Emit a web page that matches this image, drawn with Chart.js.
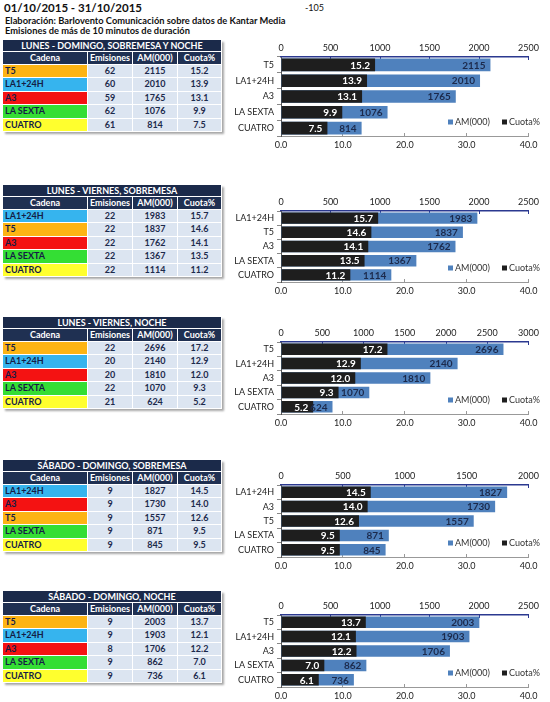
<!DOCTYPE html>
<html>
<head>
<meta charset="utf-8">
<script src="https://cdn.jsdelivr.net/npm/chart.js@4.4.0/dist/chart.umd.min.js"></script>
<style>
  body { margin: 0; width: 550px; height: 702px; position: relative; background: #fff; overflow: hidden;
         font-family: Lato, "Open Sans", sans-serif; }
  .txt { position: absolute; white-space: nowrap; color: #111; }
  .tabla { position: absolute; left: 3px; width: 219px; box-shadow: 2px 2px 2px rgba(0,0,0,0.35); }
  .fila { display: flex; }
  .celda { box-sizing: border-box; border-right: 1px solid #fff; border-bottom: 1px solid #fff;
           font-size: 9px; font-weight: bold; text-align: center; color: #1c2a4c; overflow: hidden; }
  .titulo { background: #1b2a4a; color: #fff; width: 219px; }
  .cab { background: #1f3052; color: #fff; }
  .dato { background: #dce5f1; }
  .cadena { text-align: left; padding-left: 2px; color: #141c46; }
  .grafico { position: absolute; left: 232px; width: 314px; }
</style>
</head>
<body>
<div class="txt" style="left:4px;top:1px;font-size:11.5px;font-weight:bold;">01/10/2015 - 31/10/2015</div>
<div class="txt" style="left:305px;top:2px;font-size:9px;">-105</div>
<div class="txt" style="left:5px;top:15px;font-size:9.3px;font-weight:bold;">Elaboración: Barlovento Comunicación sobre datos de Kantar Media</div>
<div class="txt" style="left:5px;top:25px;font-size:9.3px;font-weight:bold;">Emisiones de más de 10 minutos de duración</div>
<div id="panel"></div>
<script>
// Datos de cada franja
const titulos = ['LUNES - DOMINGO, SOBREMESA Y NOCHE', 'LUNES - VIERNES, SOBREMESA', 'LUNES - VIERNES, NOCHE',
                 'SÁBADO - DOMINGO, SOBREMESA', 'SÁBADO - DOMINGO, NOCHE'];

const cadenas1 = ['T5', 'LA1+24H', 'A3', 'LA SEXTA', 'CUATRO'];
const emisiones1 = [62, 60, 59, 62, 61];
const am1 = [2115, 2010, 1765, 1076, 814];
const cuota1 = [15.2, 13.9, 13.1, 9.9, 7.5];

const cadenas2 = ['LA1+24H', 'T5', 'A3', 'LA SEXTA', 'CUATRO'];
const emisiones2 = [22, 22, 22, 22, 22];
const am2 = [1983, 1837, 1762, 1367, 1114];
const cuota2 = [15.7, 14.6, 14.1, 13.5, 11.2];

const cadenas3 = ['T5', 'LA1+24H', 'A3', 'LA SEXTA', 'CUATRO'];
const emisiones3 = [22, 20, 20, 22, 21];
const am3 = [2696, 2140, 1810, 1070, 624];
const cuota3 = [17.2, 12.9, 12.0, 9.3, 5.2];

const cadenas4 = ['LA1+24H', 'A3', 'T5', 'LA SEXTA', 'CUATRO'];
const emisiones4 = [9, 9, 9, 9, 9];
const am4 = [1827, 1730, 1557, 871, 845];
const cuota4 = [14.5, 14.0, 12.6, 9.5, 9.5];

const cadenas5 = ['T5', 'LA1+24H', 'A3', 'LA SEXTA', 'CUATRO'];
const emisiones5 = [9, 9, 8, 9, 9];
const am5 = [2003, 1903, 1706, 862, 736];
const cuota5 = [13.7, 12.1, 12.2, 7.0, 6.1];

const maxAM = [2500, 2500, 3000, 2000, 2500];

const cadenas = [cadenas1, cadenas2, cadenas3, cadenas4, cadenas5];
const emisiones = [emisiones1, emisiones2, emisiones3, emisiones4, emisiones5];
const am = [am1, am2, am3, am4, am5];
const cuota = [cuota1, cuota2, cuota3, cuota4, cuota5];

// Estilos y posiciones
const colorCadena = { 'T5': '#fdb414', 'LA1+24H': '#36b4ee', 'A3': '#f41212', 'LA SEXTA': '#34de34', 'CUATRO': '#ffff2e' };
const topTabla = [40, 185, 317, 460, 591];
const topEje = [57, 211, 342, 485, 615];
const altoPlot = [79, 71, 72, 72, 72];
const anchos = [85, 45, 45, 44];
const fuente = 'Lato, "Open Sans", sans-serif';

// Etiquetas dentro de las barras
const etiquetas = {
    id: 'etiquetas',
    afterDatasetsDraw(chart) {
        const ctx = chart.ctx;
        ctx.save();
        ctx.font = 'bold 10px ' + fuente;
        ctx.textAlign = 'right';
        ctx.textBaseline = 'middle';
        [1, 0].forEach(di => {
            const ds = chart.data.datasets[di];
            chart.getDatasetMeta(di).data.forEach((bar, i) => {
                ctx.fillStyle = di === 0 ? '#ffffff' : '#1c2a4c';
                const v = di === 0 ? ds.data[i].toFixed(1) : String(ds.data[i]);
                ctx.fillText(v, bar.x - 5, bar.y + 0.5);
            });
        });
        ctx.restore();
    }
};

// Leyenda dentro del área
const leyenda = {
    id: 'leyenda',
    afterDraw(chart) {
        const ctx = chart.ctx;
        const ca = chart.chartArea;
        const y = ca.bottom - 14;
        const items = [chart.data.datasets[1], chart.data.datasets[0]];
        const xs = [ca.left + 167, ca.left + 221];
        ctx.save();
        ctx.font = '9px ' + fuente;
        ctx.textBaseline = 'middle';
        items.forEach((ds, k) => {
            ctx.fillStyle = ds.backgroundColor;
            ctx.fillRect(xs[k], y - 2.5, 5, 5);
            ctx.fillStyle = '#333';
            ctx.fillText(ds.label, xs[k] + 7, y + 0.5);
        });
        ctx.restore();
    }
};

const panel = document.getElementById('panel');

titulos.forEach((titulo, p) => {
    // Tabla
    const tabla = document.createElement('div');
    tabla.className = 'tabla';
    tabla.style.top = topTabla[p] + 'px';
    let html = '<div class="fila"><div class="celda titulo" style="height:12px;line-height:11px">' + titulo + '</div></div>';
    html += '<div class="fila">' + ['Cadena', 'Emisiones', 'AM(000)', 'Cuota%'].map((c, k) =>
        '<div class="celda cab" style="width:' + anchos[k] + 'px;height:13px;line-height:12px">' + c + '</div>').join('') + '</div>';
    cadenas[p].forEach((c, i) => {
        const vals = [emisiones[p][i], am[p][i], cuota[p][i].toFixed(1)];
        html += '<div class="fila">';
        html += '<div class="celda cadena" style="width:' + anchos[0] + 'px;height:13.4px;line-height:12.4px;background:' + colorCadena[c] + '">' + c + '</div>';
        vals.forEach((v, k) => {
            html += '<div class="celda dato" style="width:' + anchos[k + 1] + 'px;height:13.4px;line-height:12.4px">' + v + '</div>';
        });
        html += '</div>';
    });
    tabla.innerHTML = html;
    panel.appendChild(tabla);

    // Gráfico
    const caja = document.createElement('div');
    caja.className = 'grafico';
    caja.style.top = (topEje[p] - 22) + 'px';
    caja.style.height = (22 + altoPlot[p] + 20) + 'px';
    const canvas = document.createElement('canvas');
    caja.appendChild(canvas);
    panel.appendChild(caja);

    new Chart(canvas.getContext('2d'), {
        type: 'bar',
        data: {
            labels: cadenas[p],
            datasets: [
                { label: 'Cuota%', data: cuota[p], xAxisID: 'xC', backgroundColor: '#1e1e1e',
                  grouped: false, barPercentage: 0.8, categoryPercentage: 1 },
                { label: 'AM(000)', data: am[p], xAxisID: 'xAM', backgroundColor: '#4f81bd',
                  grouped: false, barPercentage: 0.8, categoryPercentage: 1 }
            ]
        },
        options: {
            indexAxis: 'y',
            responsive: true,
            maintainAspectRatio: false,
            animation: false,
            layout: { padding: { top: 0, right: 13, bottom: 0, left: 0 } },
            plugins: { legend: { display: false }, tooltip: { enabled: false } },
            scales: {
                xAM: {
                    type: 'linear', position: 'top', min: 0, max: maxAM[p],
                    ticks: { stepSize: 500, padding: 7, color: '#222', font: { family: fuente, size: 9 },
                             callback: v => String(v) },
                    grid: { drawOnChartArea: false, tickLength: -3, color: '#2b3990' },
                    border: { color: '#2b3990', width: 1.5 },
                    afterFit(s) { s.height = 22; }
                },
                xC: {
                    type: 'linear', position: 'bottom', min: 0, max: 40,
                    ticks: { stepSize: 10, padding: 7, color: '#222', font: { family: fuente, size: 9 },
                             callback: v => v.toFixed(1) },
                    grid: { drawOnChartArea: false, tickLength: -3, color: '#999' },
                    border: { color: '#999' },
                    afterFit(s) { s.height = 20; }
                },
                y: {
                    type: 'category',
                    ticks: { padding: 3, color: '#222', font: { family: fuente, size: 9 } },
                    grid: { drawOnChartArea: false, tickLength: 4, color: '#888', offset: true },
                    border: { color: '#555' },
                    afterFit(s) { s.width = 49; }
                }
            }
        },
        plugins: [etiquetas, leyenda]
    });
});
</script>
</body>
</html>
